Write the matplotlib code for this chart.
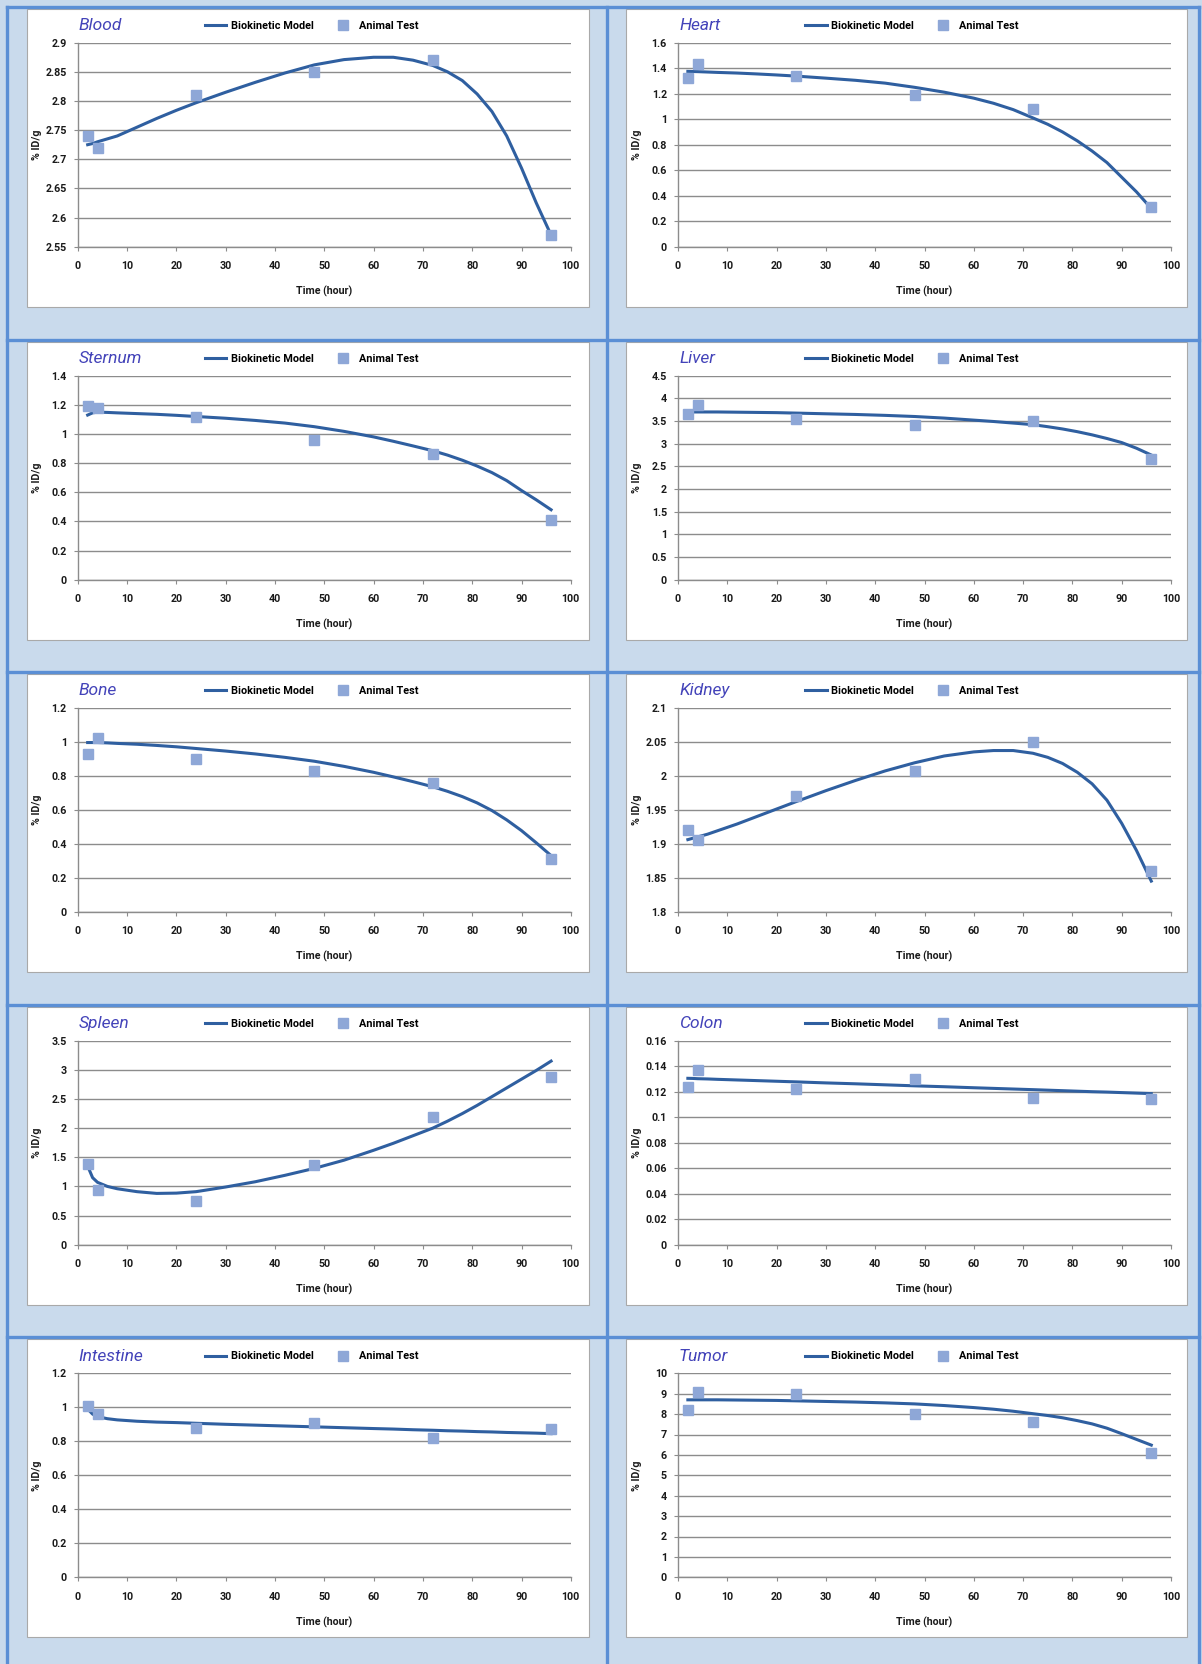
import matplotlib
matplotlib.use("Agg")
import matplotlib.pyplot as plt
from matplotlib.patches import Rectangle
from matplotlib.lines import Line2D

W, H = 1202, 1664
BG, RULE = "#c9daec", "#5b8fd5"
LINE_C, MARK_C, TITLE_C = "#2f5fa0", "#8ea7d7", "#4343b9"
GRID_C, INK = "#8c8c8c", "#1a1a1a"

plt.rcParams["font.family"] = ["Roboto", "DejaVu Sans"]
plt.rcParams["font.weight"] = "bold"

# sampling times (hours)
t_model = [2, 3, 4, 6, 8, 12, 16, 20, 24, 30, 36, 42, 48, 54, 60, 64, 68, 72, 75, 78,
           81, 84, 87, 90, 93, 96]
t_test = [2, 4, 24, 48, 72, 96]

blood_model = [2.725, 2.727, 2.730, 2.735, 2.740, 2.755, 2.770, 2.784, 2.797, 2.815, 2.832,
               2.848, 2.862, 2.871, 2.875, 2.875, 2.870, 2.861, 2.850, 2.835, 2.812, 2.782,
               2.740, 2.685, 2.625, 2.570]
blood_test = [2.74, 2.72, 2.81, 2.85, 2.87, 2.57]

heart_model = [1.375, 1.374, 1.373, 1.370, 1.367, 1.362, 1.355, 1.347, 1.338, 1.322, 1.305,
               1.283, 1.250, 1.212, 1.165, 1.125, 1.075, 1.010, 0.960, 0.900, 0.830, 0.750,
               0.660, 0.545, 0.430, 0.300]
heart_test = [1.32, 1.43, 1.34, 1.19, 1.08, 0.31]

sternum_model = [1.130, 1.145, 1.150, 1.148, 1.145, 1.140, 1.135, 1.128, 1.120, 1.108, 1.093,
                 1.075, 1.050, 1.018, 0.980, 0.950, 0.918, 0.885, 0.855, 0.820, 0.780, 0.735,
                 0.680, 0.612, 0.548, 0.480]
sternum_test = [1.19, 1.18, 1.12, 0.96, 0.86, 0.41]

liver_model = [3.70, 3.70, 3.70, 3.70, 3.70, 3.695, 3.69, 3.685, 3.675, 3.66, 3.645,
               3.625, 3.60, 3.565, 3.52, 3.49, 3.455, 3.42, 3.375, 3.325, 3.265, 3.195,
               3.115, 3.025, 2.900, 2.750]
liver_test = [3.65, 3.85, 3.55, 3.42, 3.50, 2.67]

bone_model = [0.995, 0.995, 0.995, 0.993, 0.990, 0.985, 0.978, 0.970, 0.960, 0.945, 0.928,
              0.908, 0.885, 0.855, 0.820, 0.793, 0.765, 0.735, 0.708, 0.677, 0.640, 0.595,
              0.540, 0.477, 0.405, 0.330]
bone_test = [0.93, 1.02, 0.90, 0.83, 0.76, 0.31]

kidney_model = [1.906, 1.908, 1.910, 1.914, 1.919, 1.929, 1.940, 1.951, 1.962, 1.978, 1.993,
                2.007, 2.019, 2.029, 2.035, 2.037, 2.037, 2.033, 2.027, 2.018, 2.005, 1.988,
                1.964, 1.930, 1.890, 1.845]
kidney_test = [1.92, 1.905, 1.97, 2.007, 2.05, 1.86]

spleen_model = [1.35, 1.15, 1.07, 1.00, 0.96, 0.91, 0.88, 0.885, 0.91, 0.99, 1.08,
                1.19, 1.31, 1.45, 1.62, 1.74, 1.87, 2.00, 2.12, 2.25, 2.39, 2.54,
                2.69, 2.84, 2.99, 3.15]
spleen_test = [1.38, 0.94, 0.75, 1.37, 2.19, 2.88]

colon_model = [0.1305, 0.1304, 0.1302, 0.1300, 0.1297, 0.1292, 0.1287, 0.1282, 0.1277, 0.1269,
               0.1262, 0.1254, 0.1246, 0.1239, 0.1231, 0.1226, 0.1221, 0.1216, 0.1212, 0.1208,
               0.1204, 0.1200, 0.1197, 0.1193, 0.1189, 0.1185]
colon_test = [0.124, 0.137, 0.122, 0.130, 0.115, 0.114]

intestine_model = [0.990, 0.960, 0.945, 0.933, 0.926, 0.918, 0.913, 0.910, 0.906, 0.900, 0.895,
                   0.890, 0.885, 0.880, 0.875, 0.872, 0.868, 0.865, 0.862, 0.860, 0.857, 0.855,
                   0.852, 0.850, 0.848, 0.845]
intestine_test = [1.01, 0.96, 0.88, 0.91, 0.82, 0.87]

tumor_model = [8.70, 8.70, 8.70, 8.70, 8.70, 8.69, 8.68, 8.67, 8.65, 8.62, 8.59,
               8.55, 8.50, 8.42, 8.32, 8.24, 8.14, 8.02, 7.93, 7.82, 7.68, 7.52,
               7.31, 7.04, 6.76, 6.48]
tumor_test = [8.2, 9.1, 9.0, 8.0, 7.6, 6.1]

organs = ["Blood", "Heart", "Sternum", "Liver", "Bone",
          "Kidney", "Spleen", "Colon", "Intestine", "Tumor"]
models = [blood_model, heart_model, sternum_model, liver_model, bone_model,
          kidney_model, spleen_model, colon_model, intestine_model, tumor_model]
tests = [blood_test, heart_test, sternum_test, liver_test, bone_test,
         kidney_test, spleen_test, colon_test, intestine_test, tumor_test]
# y axis: (min, max, major step)
y_axes = [(2.55, 2.9, 0.05), (0, 1.6, 0.2), (0, 1.4, 0.2), (0, 4.5, 0.5), (0, 1.2, 0.2),
          (1.8, 2.1, 0.05), (0, 3.5, 0.5), (0, 0.16, 0.02), (0, 1.2, 0.2), (0, 10, 1)]


def fx(px):
    return px / W


def fy(py):
    return 1 - py / H


fig = plt.figure(figsize=(W / 100, H / 100), dpi=100, facecolor=BG)

# table rules
row_rules = [6.7, 339.7, 671.7, 1004.7, 1337.3]
for y in row_rules:
    fig.add_artist(Line2D([fx(7), fx(1199)], [fy(y), fy(y)], color=RULE, lw=2.4))
for x in [7, 607, 1199]:
    fig.add_artist(Line2D([fx(x), fx(x)], [fy(6.7), fy(H)], color=RULE, lw=2.4))

ax_left = [77.8, 678]
ax_top = [42.7, 375.7, 707.7, 1040.7, 1373.3]
ax_w, ax_h = 493, 204
panel_x = [(26.5, 562.5), (626, 561)]

for i, name in enumerate(organs):
    r, c = divmod(i, 2)
    x0, y0 = ax_left[c], ax_top[r]
    px, pw = panel_x[c]
    fig.add_artist(Rectangle((fx(px), fy(y0 + 264)), pw / W, 298 / H,
                             transform=fig.transFigure, facecolor="white",
                             edgecolor="#a9a9a9", lw=0.8, zorder=0))

    ax = fig.add_axes([fx(x0), fy(y0 + ax_h), ax_w / W, ax_h / H])
    ax.set_facecolor("none")
    lo, hi, step = y_axes[i]
    n = int(round((hi - lo) / step))
    yt = [round(lo + k * step, 4) for k in range(n + 1)]
    ax.set_ylim(lo, hi)
    ax.set_yticks(yt)
    ax.set_yticklabels([f"{v:g}" for v in yt])
    ax.set_xlim(0, 100)
    ax.set_xticks(range(0, 101, 10))

    ax.yaxis.grid(True, color=GRID_C, lw=1.0)
    ax.set_axisbelow(True)
    for s in ("top", "right"):
        ax.spines[s].set_visible(False)
    for s in ("left", "bottom"):
        ax.spines[s].set_color(GRID_C)
        ax.spines[s].set_linewidth(1.0)
    ax.tick_params(axis="both", direction="out", length=3, width=0.8,
                   color=GRID_C, labelsize=7.7, labelcolor=INK)
    ax.tick_params(axis="x", pad=7.5)
    ax.tick_params(axis="y", pad=5)
    for lbl in ax.get_xticklabels() + ax.get_yticklabels():
        lbl.set_fontweight("bold")

    ln, = ax.plot(t_model, models[i], color=LINE_C, lw=2.2, zorder=3,
                  label="Biokinetic Model")
    mk, = ax.plot(t_test, tests[i], ls="none", marker="s", ms=6.8, mfc=MARK_C,
                  mec=MARK_C, zorder=4, label="Animal Test")

    ax.set_xlabel("Time (hour)", fontsize=7.7, color=INK, fontweight="bold")
    ax.xaxis.set_label_coords(0.5, -39 / ax_h)
    ax.set_ylabel("% ID/g", fontsize=7.7, color=INK, fontweight="bold")
    ax.yaxis.set_label_coords(-36 / ax_w, 0.5)

    fig.text(fx(x0 + 1), fy(y0 - 17), name, fontsize=12.5, style="italic",
             fontweight="normal", color=TITLE_C, ha="left", va="center")

    ax.legend(handles=[ln, mk], loc="center left",
              bbox_to_anchor=(fx(x0 + 127), fy(y0 - 17)), bbox_transform=fig.transFigure,
              ncol=2, frameon=False, prop={"size": 7.8, "weight": "bold"},
              handlelength=2.0, handletextpad=0.44, columnspacing=1.69,
              borderpad=0, borderaxespad=0, numpoints=1)

fig.savefig("out.png", dpi=100, facecolor=BG)
